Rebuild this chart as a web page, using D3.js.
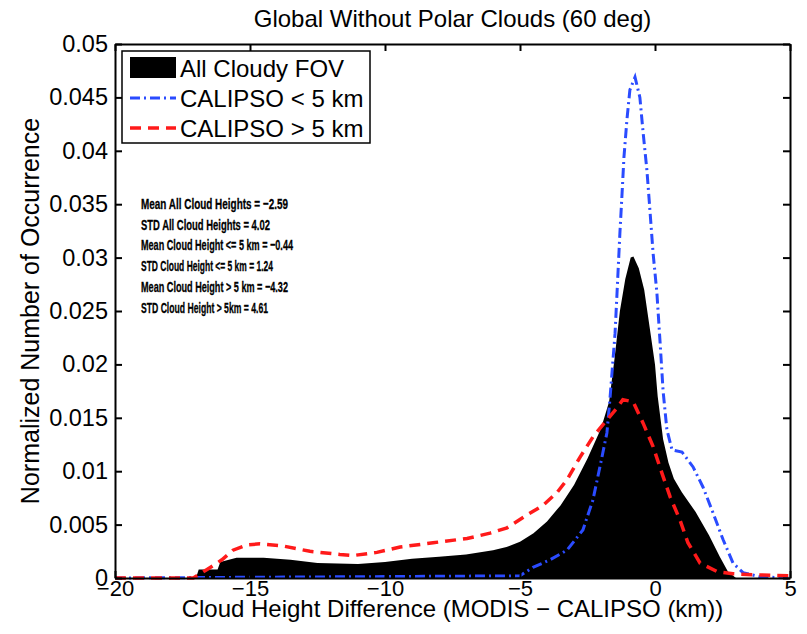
<!DOCTYPE html>
<html>
<head>
<meta charset="utf-8">
<script src="https://cdn.jsdelivr.net/npm/d3@7"></script>
<style>
    body { margin: 0; background: #fff; }
    svg text { font-family: "Liberation Sans", Arial, Helvetica, sans-serif; fill: #000; }
</style>
</head>
<body>
<svg id="chart" width="807" height="634"></svg>
<script>
// Histogram values (x in km, y normalized occurrence)
var allX = [-20, -17.0, -16.9, -16.2, -16.1, -15.5, -14.5, -13.5, -12.5, -11.0, -10.0, -9.0, -8.0, -7.0, -6.0, -5.5, -5.0,
    -4.5, -4.0, -3.5, -3.0, -2.5, -2.0, -1.7, -1.5, -1.3, -1.1, -0.9, -0.8, -0.6, -0.4, -0.2, 0.0, 0.1, 0.3, 0.5,
    0.7, 1.0, 1.5, 2.0, 2.4, 2.7, 3.0, 5];
var allY = [0, 0, 0.0008, 0.0008, 0.0015, 0.0019, 0.0019, 0.0017, 0.0014, 0.0013, 0.0015, 0.0018, 0.0020, 0.0022, 0.0026, 0.0029, 0.0034,
    0.0042, 0.0053, 0.0068, 0.0087, 0.0112, 0.0140, 0.0165, 0.0205, 0.0250, 0.0280, 0.0300, 0.0301, 0.0290, 0.0270, 0.0235, 0.0200, 0.0170, 0.0130, 0.0108,
    0.0093, 0.0080, 0.0062, 0.0040, 0.0020, 0.0006, 0, 0];

var lowX = [-20, -5.0, -4.52, -3.89, -3.26, -2.67, -2.30, -2.04, -1.78, -1.67, -1.48, -1.41, -1.30, -1.22, -1.15, -1.04, -0.93, -0.74,
    -0.56, -0.44, -0.30, -0.19, -0.07, 0.07, 0.19, 0.30, 0.44, 0.63, 1.0, 1.41, 1.78, 2.15, 2.52, 2.89, 3.26, 3.9, 5];
var lowY = [0, 0.0002, 0.0010, 0.0017, 0.0026, 0.0045, 0.0073, 0.0104, 0.0136, 0.0167, 0.0229, 0.0265, 0.0323, 0.0360, 0.0394, 0.0429, 0.0457, 0.0469,
    0.0450, 0.0417, 0.0382, 0.0345, 0.0304, 0.0267, 0.0220, 0.0175, 0.0139, 0.0120, 0.0118, 0.0104, 0.0085, 0.0061, 0.0036, 0.0014, 0.0005, 0.0001, 0];

var highX = [-20, -17.1, -16.59, -16.04, -15.63, -15.11, -14.63, -13.78, -12.78, -11.67, -11.19, -10.30, -9.44, -8.22, -6.96, -6.11, -5.48,
    -4.74, -4.15, -3.63, -3.26, -2.78, -2.30, -1.78, -1.41, -1.19, -0.81, -0.44, -0.07, 0.26, 0.56, 0.93, 1.22, 1.67, 2.30, 2.89, 3.63, 5];
var highY = [0, 0, 0.0008, 0.0017, 0.0026, 0.0031, 0.0032, 0.0030, 0.0025, 0.0022, 0.0021, 0.0024, 0.0029, 0.0033, 0.0037, 0.0042, 0.0047,
    0.0059, 0.0068, 0.0080, 0.0092, 0.0113, 0.0132, 0.0148, 0.0159, 0.0167, 0.0165, 0.0145, 0.0123, 0.0098, 0.0076, 0.0054, 0.0033, 0.0014, 0.0006, 0.0004, 0.0003, 0.0002];

var xTicks = [-20, -15, -10, -5, 0, 5];
var yTicks = [0, 0.005, 0.01, 0.015, 0.02, 0.025, 0.03, 0.035, 0.04, 0.045, 0.05];

var legendLabels = ["All Cloudy FOV", "CALIPSO < 5 km", "CALIPSO > 5 km"];
var statLines = [
    "Mean All Cloud Heights = \u22122.59",
    "STD All Cloud Heights  = 4.02",
    "Mean Cloud Height <= 5 km = \u22120.44",
    "STD Cloud Height <= 5 km = 1.24",
    "Mean Cloud Height > 5 km = \u22124.32",
    "STD Cloud Height > 5km = 4.61"
];
// measured widths of the stats lines, the original font is quite condensed
var statWidths = [147, 129, 152, 132, 147, 127];

var BLUE = "#2a4bff", RED = "#ff1a1a";

var box = { left: 115, right: 790, top: 44, bottom: 578 };
var svg = d3.select("#chart");

var x = d3.scaleLinear().domain([-20, 5]).range([box.left, box.right]);
var y = d3.scaleLinear().domain([0, 0.05]).range([box.bottom, box.top]);

function zip(xs, ys){
    return xs.map(function(v, i){ return [v, ys[i]]; });
}

// black histogram
var area = d3.area()
    .x(function(d){ return x(d[0]); })
    .y0(y(0))
    .y1(function(d){ return y(d[1]); });
svg.append("path")
    .datum(zip(allX, allY))
    .attr("d", area)
    .attr("fill", "#000");

var line = d3.line()
    .x(function(d){ return x(d[0]); })
    .y(function(d){ return y(d[1]); });

svg.append("path")
    .datum(zip(lowX, lowY))
    .attr("d", line)
    .attr("fill", "none")
    .attr("stroke", BLUE)
    .attr("stroke-width", 3)
    .attr("stroke-dasharray", "10,4,2,4");

svg.append("path")
    .datum(zip(highX, highY))
    .attr("d", line)
    .attr("fill", "none")
    .attr("stroke", RED)
    .attr("stroke-width", 3.5)
    .attr("stroke-dasharray", "11,7");

// axes, ticks inward on all four sides (matlab box style)
function fmtX(d){ return d < 0 ? "\u2212" + (-d) : String(d); }
function fmtY(d){ return String(+d.toFixed(3)); }

var gB = svg.append("g").attr("transform", "translate(0," + box.bottom + ")")
    .call(d3.axisBottom(x).tickValues(xTicks).tickFormat(fmtX).tickSizeInner(-7).tickSizeOuter(0).tickPadding(3));
var gT = svg.append("g").attr("transform", "translate(0," + box.top + ")")
    .call(d3.axisTop(x).tickValues(xTicks).tickFormat("").tickSizeInner(-7).tickSizeOuter(0));
var gL = svg.append("g").attr("transform", "translate(" + box.left + ",0)")
    .call(d3.axisLeft(y).tickValues(yTicks).tickFormat(fmtY).tickSizeInner(-7).tickSizeOuter(0).tickPadding(7));
var gR = svg.append("g").attr("transform", "translate(" + box.right + ",0)")
    .call(d3.axisRight(y).tickValues(yTicks).tickFormat("").tickSizeInner(-7).tickSizeOuter(0));

[gB, gT, gL, gR].forEach(function(g){
    g.select(".domain").attr("stroke", "#000").attr("stroke-width", 2);
    g.selectAll(".tick line").attr("stroke", "#000").attr("stroke-width", 2);
    g.selectAll(".tick text").attr("font-size", 23.5).attr("fill", "#000")
        .attr("font-family", "Liberation Sans, Arial, sans-serif");
});
gB.selectAll(".tick text").attr("font-size", 22).attr("dy", "0.66em");

// titles
svg.append("text")
    .attr("x", (box.left + box.right) / 2).attr("y", 27)
    .attr("text-anchor", "middle").attr("font-size", 24)
    .text("Global Without Polar Clouds (60 deg)");
svg.append("text")
    .attr("x", (box.left + box.right) / 2).attr("y", 617)
    .attr("text-anchor", "middle").attr("font-size", 24)
    .text("Cloud Height Difference (MODIS \u2212 CALIPSO (km))");
svg.append("text")
    .attr("transform", "translate(39," + ((box.top + box.bottom) / 2) + ") rotate(-90)")
    .attr("text-anchor", "middle").attr("font-size", 25)
    .text("Normalized Number of Occurrence");

// legend
var lg = svg.append("g").attr("transform", "translate(122,51)");
lg.append("rect").attr("width", 248).attr("height", 92)
    .attr("fill", "#fff").attr("stroke", "#000").attr("stroke-width", 1.5);
lg.append("rect").attr("x", 8).attr("y", 6).attr("width", 46).attr("height", 21).attr("fill", "#000");
lg.append("line").attr("x1", 8).attr("x2", 54).attr("y1", 47).attr("y2", 47)
    .attr("stroke", BLUE).attr("stroke-width", 3).attr("stroke-dasharray", "10,4,2,4");
lg.append("line").attr("x1", 8).attr("x2", 54).attr("y1", 77).attr("y2", 77)
    .attr("stroke", RED).attr("stroke-width", 3.5).attr("stroke-dasharray", "11,7");
lg.selectAll("text.lab").data(legendLabels).enter().append("text")
    .attr("class", "lab")
    .attr("x", 58)
    .attr("y", function(d, i){ return 26 + i * 30; })
    .attr("font-size", 24)
    .text(function(d){ return d; });

// statistics block
svg.selectAll("text.stat").data(statLines).enter().append("text")
    .attr("class", "stat")
    .attr("x", 141)
    .attr("y", function(d, i){ return 209 + i * 20.7; })
    .attr("font-size", 15.5)
    .attr("font-weight", "bold")
    .attr("stroke", "#000")
    .attr("stroke-width", 0.3)
    .attr("textLength", function(d, i){ return statWidths[i]; })
    .attr("lengthAdjust", "spacingAndGlyphs")
    .text(function(d){ return d; });
</script>
</body>
</html>
